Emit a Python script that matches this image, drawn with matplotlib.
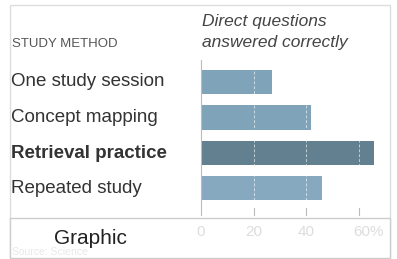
import matplotlib.pyplot as plt
from matplotlib.patches import Rectangle

methods = ['One study session', 'Concept mapping', 'Retrieval practice', 'Repeated study']
scores = [27, 42, 66, 46]
bar_colors = ['#7fa4ba', '#7fa4ba', '#62808f', '#86a9c0']
ticks = [0, 20, 40, 60]
tick_labels = ['0', '20', '40', '60%']

W, H = 397, 259
fig = plt.figure(figsize=(W / 100, H / 100), dpi=100)
plt.rcParams['font.family'] = ['Liberation Sans', 'DejaVu Sans']

def fx(px):
    return px / W

def fy(py):
    return 1 - py / H

# outer frame
fig.add_artist(Rectangle((fx(10), fy(258)), fx(380), fy(5) - fy(258), transform=fig.transFigure,
                         fill=False, edgecolor='#dddddd', lw=1))

ax = fig.add_axes([fx(201), fy(215), fx(390) - fx(201), fy(60) - fy(215)])
ax.barh(range(len(methods)), scores, height=0.68, color=bar_colors, zorder=2)
for t in ticks[1:]:
    ax.axvline(t, color='white', lw=0.7, ls=(0, (3, 2)), alpha=0.6, zorder=3)
    ax.plot([t, t], [3.75, 3.55], color='#bbbbbb', lw=0.8, zorder=3, clip_on=False)
ax.set_xlim(0, 72)
ax.set_ylim(3.75, -0.62)
for s in ['top', 'right', 'bottom']:
    ax.spines[s].set_visible(False)
ax.spines['left'].set_color('#bbbbbb')
ax.set_xticks([])
ax.set_yticks([])

# category labels
for i, m in enumerate(methods):
    fig.text(fx(11), fy(82 + 35.5 * i), m, fontsize=13.5, color='#333333', va='center',
             fontweight='bold' if m == 'Retrieval practice' else 'normal')

fig.text(fx(12), fy(44), 'STUDY METHOD', fontsize=9.5, color='#555555', va='center')
fig.text(fx(202), fy(21), 'Direct questions', fontsize=12.5, style='italic', color='#444444', va='center')
fig.text(fx(202), fy(42), 'answered correctly', fontsize=12.5, style='italic', color='#444444', va='center')

# bottom caption box
fig.add_artist(Rectangle((fx(10), fy(258)), fx(380), fy(218) - fy(258), transform=fig.transFigure,
                         facecolor='white', edgecolor='#cccccc', lw=1, zorder=5))
fig.text(fx(54), fy(238), 'Graphic', fontsize=15, color='#222222', va='center', zorder=6)
for t, lab in zip(ticks, tick_labels):
    x = 201 + t * (189 / 72)
    if lab == '60%':
        x = 369
    fig.text(fx(x), fy(232), lab, fontsize=11, color='#dddddd', va='center', ha='center', zorder=6)
fig.text(fx(12), fy(252), 'Source: Science', fontsize=7.5, color='#e8e8e8', va='center', zorder=6)

fig.savefig('out.png', dpi=100, facecolor='white')
